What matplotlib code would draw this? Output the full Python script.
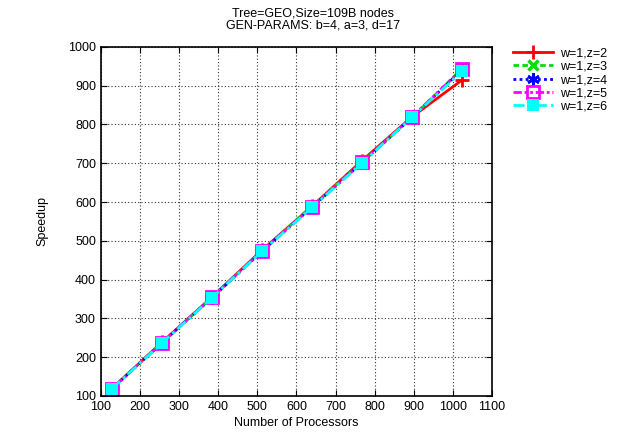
import matplotlib.pyplot as plt
import numpy as np

# processors and speedup per (w, z) configuration
procs = [128, 256, 384, 512, 640, 768, 896, 1024]
speedup_z2 = [119, 238, 355, 476, 589, 707, 820, 915]
speedup_z3 = [119, 237, 354, 474, 590, 703, 818, 945]
speedup_z4 = [118, 237, 353, 473, 587, 702, 819, 941]
speedup_z5 = [118, 237, 354, 474, 587, 702, 820, 943]
speedup_z6 = [118, 236, 353, 473, 586, 701, 819, 937]
labels = ['w=1,z=2', 'w=1,z=3', 'w=1,z=4', 'w=1,z=5', 'w=1,z=6']

plt.rcParams['font.family'] = ['Liberation Sans', 'DejaVu Sans']

fig = plt.figure(figsize=(6.26, 4.38), dpi=100)
ax = fig.add_axes([0.161, 0.096, 0.625, 0.797])

styles = [
    dict(color='#ff0000', linestyle='-', marker='+', ms=10, mew=2, mfc='#ff0000'),
    dict(color='#00dd00', linestyle=(0, (2, 1.2)), marker='x', ms=7, mew=2.5),
    dict(color='#0000ff', linestyle=(0, (1, 1.2)), marker=(6, 2, 0), ms=9, mew=2),
    dict(color='#ff00ff', linestyle=(0, (3, 1, 1, 1, 1, 1)), marker='s', ms=8, mew=2, mfc='none'),
    dict(color='#00ffff', linestyle=(0, (4, 1.5, 1, 1.5)), marker='s', ms=8, mew=0, mfc='#00ffff'),
]
series = [speedup_z2, speedup_z3, speedup_z4, speedup_z5, speedup_z6]
for vals, lab, st in zip(series, labels, styles):
    ax.plot(procs, vals, label=lab, lw=2, **st)

ax.set_xlim(100, 1100)
ax.set_ylim(100, 1000)
ax.set_xticks(np.arange(100, 1101, 100))
ax.set_yticks(np.arange(100, 1001, 100))
ax.tick_params(direction='in', top=True, right=True, labelsize=9, length=4)
ax.grid(True, linestyle=(0, (1, 2)), color='#333333', linewidth=0.8)
ax.set_axisbelow(True)
for sp in ax.spines.values():
    sp.set_linewidth(1.2)

ax.set_xlabel('Number of Processors', fontsize=9, labelpad=3)
ax.set_ylabel('Speedup', fontsize=9, labelpad=14)
fig.text(0.5, 0.983, 'Tree=GEO,Size=109B nodes\nGEN-PARAMS: b=4, a=3, d=17',
         ha='center', va='top', fontsize=9, linespacing=1.05)

ax.legend(loc='upper left', bbox_to_anchor=(1.053, 0.998), frameon=False,
          fontsize=9, handlelength=3.2, labelspacing=0.1, borderaxespad=0,
          borderpad=0, handletextpad=0.6)

fig.savefig('out.png', dpi=100)
